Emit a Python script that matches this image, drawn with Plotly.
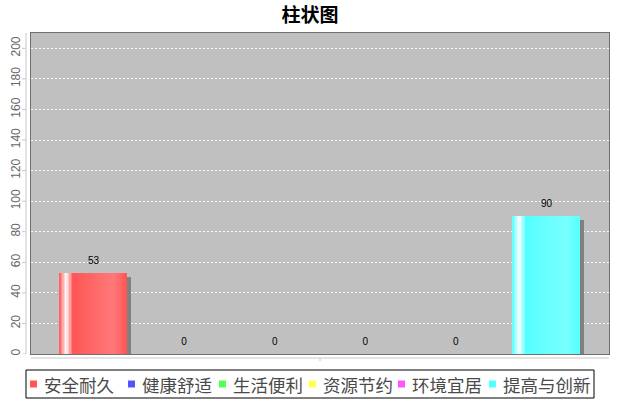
import plotly.graph_objects as go

# ---------------- data ----------------
series_names = ["安全耐久", "健康舒适", "生活便利", "资源节约", "环境宜居", "提高与创新"]
series_values = [53, 0, 0, 0, 0, 90]
series_colors = ["#FF5555", "#5555FF", "#55FF55", "#FFFF55", "#FF55FF", "#55FFFF"]
y_tick_values = [0, 20, 40, 60, 80, 100, 120, 140, 160, 180, 200]
chart_title = "柱状图"

# ---------------- layout constants ----------------
W, H = 620, 400
L, R, T, B = 31, 11, 33, 46
PW, PH = W - L - R, H - T - B
X_RANGE = [-0.69, 5.69]
Y_RANGE = [0, 210]
BAR_W = 0.74
N_STRIPS = 48
SHADOW_PX = 4
PX_PER_X = PW / (X_RANGE[1] - X_RANGE[0])
PX_PER_Y = PH / (Y_RANGE[1] - Y_RANGE[0])
LEGEND_SQ_X = [30, 128, 219, 309, 398, 489]   # legend layout (pixels)
LEGEND_TEXT_GAP = 12
LEGEND_BOX = (26, 370, 594, 398)
LEGEND_Y = 384
CJK = "Noto Sans CJK SC"


def fx(px):
    return (px - L) / PW


def fy(py):
    return (H - B - py) / PH


def hex2rgb(h):
    h = h.lstrip("#")
    return tuple(int(h[i:i + 2], 16) for i in (0, 2, 4))


def brighter(c):
    return tuple(min(255, int(v / 0.7)) for v in c)


def mix(a, b, t):
    return tuple(a[k] + (b[k] - a[k]) * t for k in range(3))


def grad_color(hexc, t):
    c0 = hex2rgb(hexc)
    c1 = brighter(c0)
    white = (255, 255, 255)
    if t < 0.10:
        c = mix(c0, white, t / 0.10)
    elif t < 0.20:
        c = mix(white, c0, (t - 0.10) / 0.10)
    elif t < 0.80:
        c = mix(c0, c1, (t - 0.20) / 0.60)
    else:
        c = mix(c1, c0, (t - 0.80) / 0.20)
    return "rgb(%d,%d,%d)" % tuple(round(v) for v in c)


xs = list(range(len(series_names)))
fig = go.Figure()

# shadows
fig.add_trace(go.Bar(
    x=xs,
    y=[max(v - SHADOW_PX / PX_PER_Y, 0) for v in series_values],
    width=BAR_W,
    offset=-BAR_W / 2 + SHADOW_PX / PX_PER_X,
    marker=dict(color="#808080", line=dict(width=0)),
    hoverinfo="skip", showlegend=False,
))

# gradient bars built from thin strips
sw = BAR_W / N_STRIPS
for j in range(N_STRIPS):
    t = (j + 0.5) / N_STRIPS
    off = -BAR_W / 2 + j * sw
    w = min(sw * 1.4, BAR_W / 2 - off)
    fig.add_trace(go.Bar(
        x=xs, y=series_values, width=w, offset=off,
        marker=dict(color=[grad_color(c, t) for c in series_colors], line=dict(width=0)),
        hoverinfo="skip", showlegend=False,
    ))

# value labels
fig.add_trace(go.Scatter(
    x=xs, y=series_values, mode="markers+text",
    marker=dict(size=9, color="rgba(0,0,0,0)"),
    text=[str(v) for v in series_values], textposition="top center",
    textfont=dict(family="Liberation Sans", size=10, color="black"),
    cliponaxis=False, hoverinfo="skip", showlegend=False,
))

shapes = []
annotations = []

# offset axis lines
shapes.append(dict(type="line", xref="paper", yref="paper", xsizemode="pixel", xanchor=0,
                   x0=-5, x1=-5, y0=0, y1=1, line=dict(color="#c8c8c8", width=1)))
shapes.append(dict(type="line", xref="paper", yref="paper", ysizemode="pixel", yanchor=0,
                   x0=0, x1=1, y0=-4, y1=-4, line=dict(color="#c8c8c8", width=1)))
shapes.append(dict(type="line", xref="paper", yref="paper", ysizemode="pixel", yanchor=0,
                   x0=0.5, x1=0.5, y0=-4, y1=-7, line=dict(color="#c8c8c8", width=1)))
for yv in y_tick_values:
    shapes.append(dict(type="line", xref="paper", yref="y", xsizemode="pixel", xanchor=0,
                       x0=-9, x1=-5, y0=yv, y1=yv, line=dict(color="#c8c8c8", width=1)))

# legend
shapes.append(dict(type="rect", xref="paper", yref="paper",
                   x0=fx(LEGEND_BOX[0]), x1=fx(LEGEND_BOX[2]),
                   y0=fy(LEGEND_BOX[1]), y1=fy(LEGEND_BOX[3]),
                   line=dict(color="black", width=1), fillcolor="white"))
for name, col, sx in zip(series_names, series_colors, LEGEND_SQ_X):
    shapes.append(dict(type="rect", xref="paper", yref="paper",
                       x0=fx(sx), x1=fx(sx + 7), y0=fy(LEGEND_Y - 3.5), y1=fy(LEGEND_Y + 3.5),
                       line=dict(width=0), fillcolor=col))
    annotations.append(dict(text=name, xref="paper", yref="paper",
                            x=fx(sx + LEGEND_TEXT_GAP), y=fy(LEGEND_Y),
                            xanchor="left", yanchor="middle", showarrow=False,
                            font=dict(family=CJK, size=17.5, color="#4a4a4a")))

fig.update_layout(
    width=W, height=H,
    margin=dict(l=L, r=R, t=T, b=B, pad=0, autoexpand=False),
    paper_bgcolor="white", plot_bgcolor="#C0C0C0",
    barmode="overlay", bargap=0,
    showlegend=False,
    title=dict(text="<b>%s</b>" % chart_title, x=0.5, xref="container", xanchor="center",
               y=1 - 15 / H, yref="container", yanchor="middle",
               font=dict(family=CJK, size=19, color="black")),
    xaxis=dict(range=X_RANGE, showticklabels=False, showgrid=False, zeroline=False,
               showline=True, mirror=True, linecolor="#707070", linewidth=1, ticks="",
               fixedrange=True, automargin=False),
    yaxis=dict(range=Y_RANGE, tickvals=y_tick_values, tickangle=-90,
               tickfont=dict(family="Liberation Sans", size=12, color="#666666"),
               showgrid=True, gridcolor="rgba(255,255,255,0.9)", griddash="2px,2px", gridwidth=1,
               zeroline=False, showline=True, mirror=True, linecolor="#707070", linewidth=1,
               ticks="", ticklabelstandoff=5, fixedrange=True, automargin=False),
    shapes=shapes, annotations=annotations,
)

fig.write_html(
    "out.html",
    config={"displayModeBar": False},
    post_script="document.body.style.margin='0';document.body.style.overflow='hidden';",
)
